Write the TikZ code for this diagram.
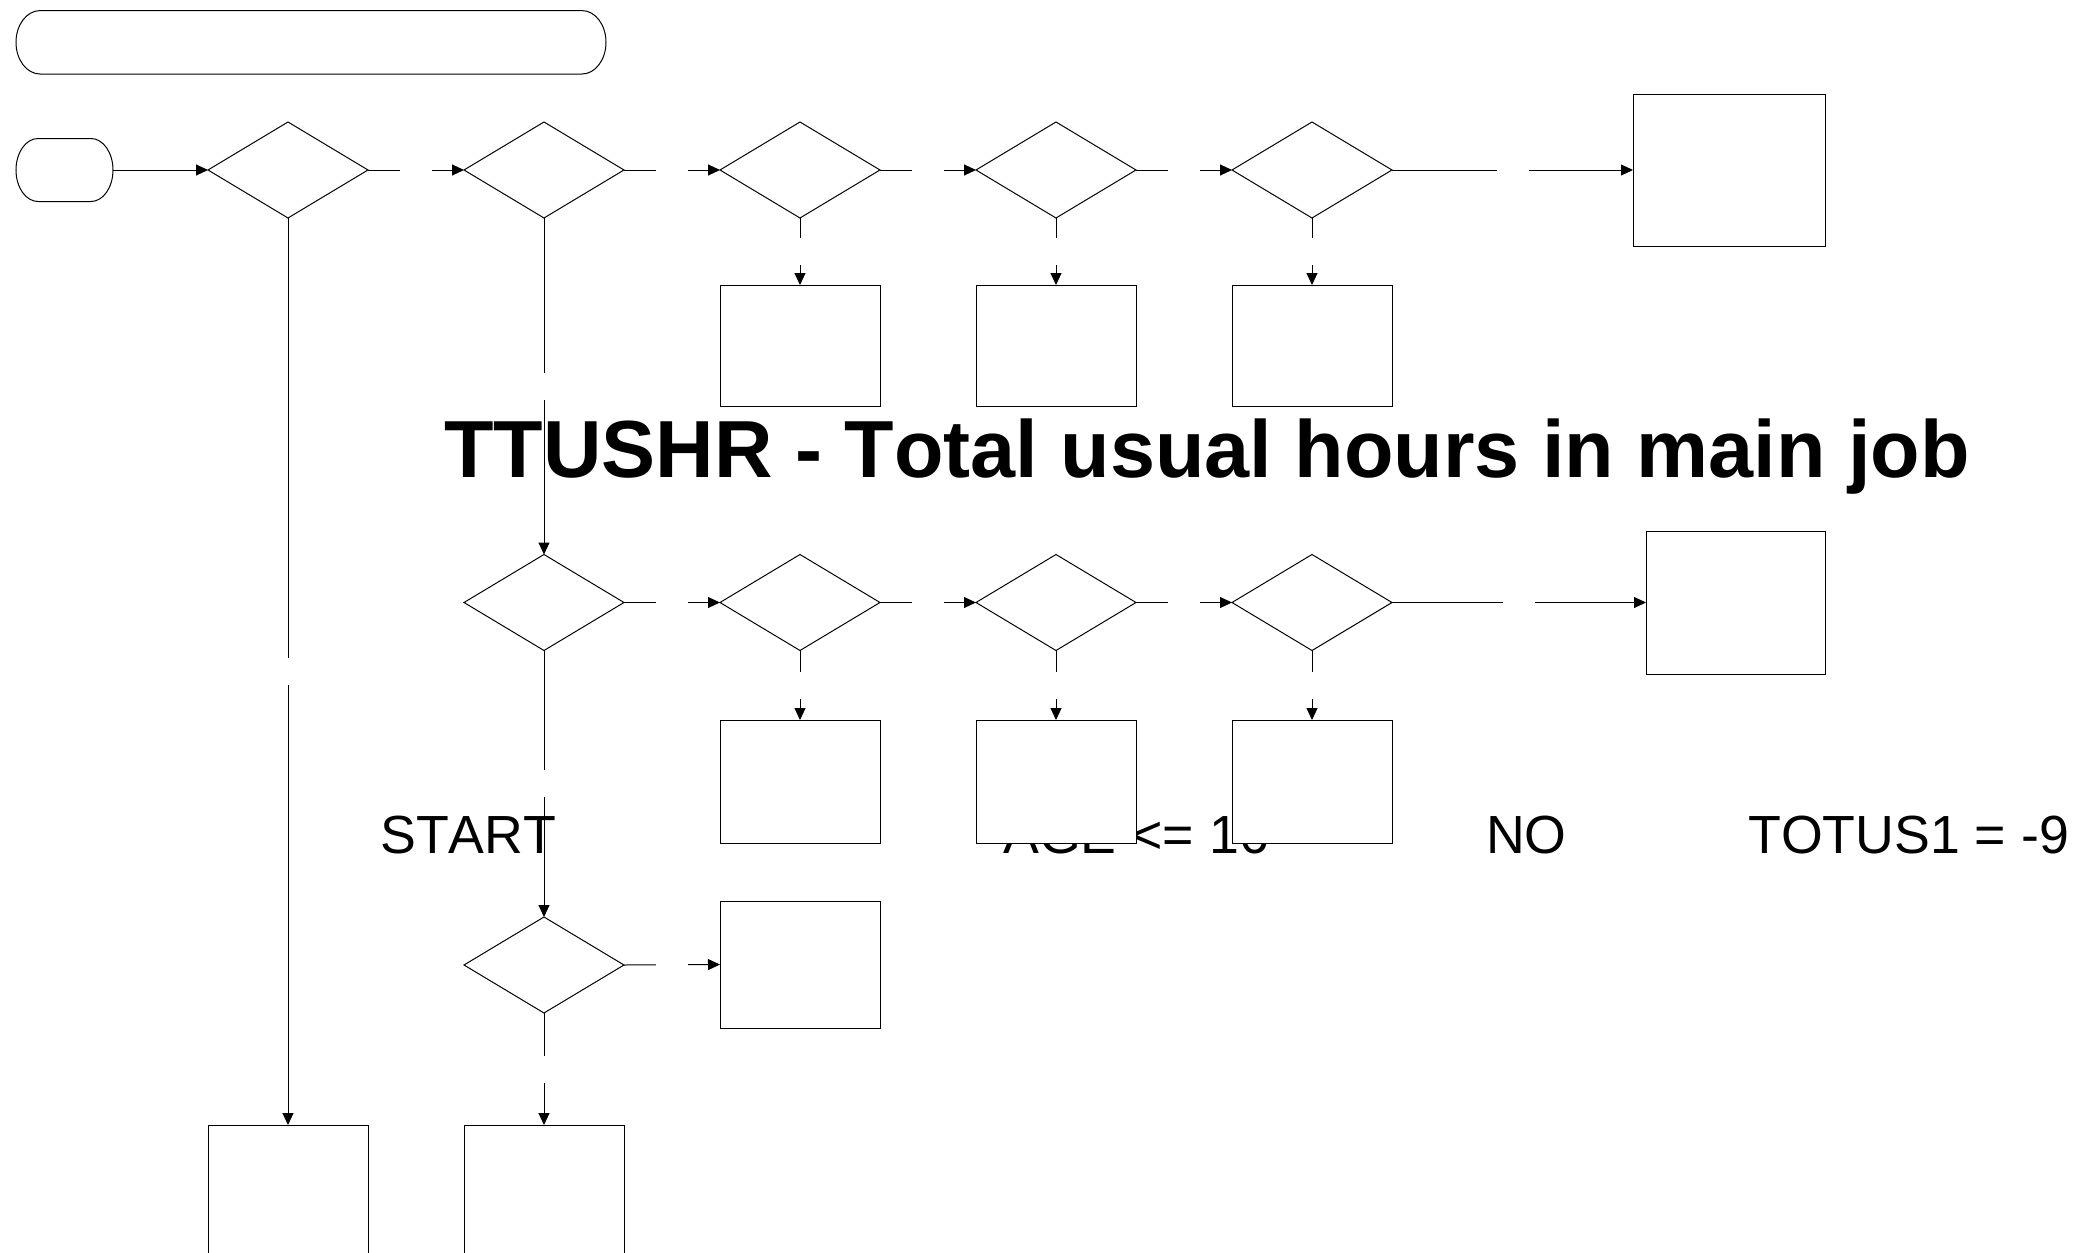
\documentclass[tikz,border=0pt]{standalone}
\usepackage{fontspec}
\setmainfont[Kerning=Off]{Liberation Sans}
\usetikzlibrary{shapes.geometric,arrows.meta,calc}
\newcommand\termoutline[3]{\draw[line width=1pt] ($(#1.north west)+(#2,0)$) -- ($(#1.north east)+(-#2,0)$)
  arc[start angle=90,end angle=-90,x radius=#2pt,y radius=#3pt]
  -- ($(#1.south west)+(#2,0)$)
  arc[start angle=-90,end angle=-270,x radius=#2pt,y radius=#3pt] -- cycle;}
\begin{document}
\begin{tikzpicture}[x=1pt,y=-1pt,
  dia/.style={draw, shape=diamond, minimum width=160pt, minimum height=96pt, inner sep=0pt, outer sep=0pt, fill=white, line width=1pt},
  box/.style={draw, rectangle, inner sep=0pt, outer sep=0pt, fill=white, line width=1pt},
  termnode/.style={rectangle, inner sep=0pt, outer sep=0pt},
  conn/.style={line width=1pt, -{Triangle[length=12pt,width=11pt]}},
  gapnode/.style={fill=white, inner sep=0pt, outer sep=0pt, minimum width=32pt, minimum height=27pt},
  lbl/.style={anchor=base west, inner sep=0pt, font=\fontsize{53.7}{60}\selectfont},
]
\useasboundingbox (0,0) rectangle (2078,1253);
\clip (0,0) rectangle (2078,1253);

% texts
\node[anchor=base west, inner sep=0pt, font=\bfseries\fontsize{81}{90}\selectfont] (title) at (444,477) {TTUSHR - Total usual hours in main job};
\node[lbl] (lstart) at (380,853) {START};
\node[lbl] (lage) at (1003,853) {AGE <= 16};
\node[lbl] (lno) at (1486,853) {NO};
\node[lbl] (ltot) at (1748,853) {TOTUS1 = -9};

% terminals
\node[termnode, minimum width=590pt, minimum height=63.4pt] (top) at (311,42.3) {};
\node[termnode, minimum width=97pt, minimum height=63pt] (start) at (64.5,170) {};
\termoutline{top}{24}{31.7}
\termoutline{start}{22}{31.5}

% row 1
\node[dia] (D1) at (288,170) {};
\node[dia] (D2) at (544,170) {};
\node[dia] (D3) at (800,170) {};
\node[dia] (D4) at (1056,170) {};
\node[dia] (D5) at (1312,170) {};
\node[box, minimum width=192pt, minimum height=152pt] (B1) at (1729,170) {};
\node[box, minimum width=160pt, minimum height=121pt] (C3) at (800,345.5) {};
\node[box, minimum width=160pt, minimum height=121pt] (C4) at (1056,345.5) {};
\node[box, minimum width=160pt, minimum height=121pt] (C5) at (1312,345.5) {};

% row 2
\node[dia] (E2) at (544,602.5) {};
\node[dia] (E3) at (800,602.5) {};
\node[dia] (E4) at (1056,602.5) {};
\node[dia] (E5) at (1312,602.5) {};
\node[box, minimum width=179pt, minimum height=143pt] (B2) at (1735.5,602.5) {};
\node[box, minimum width=160pt, minimum height=123pt] (F3) at (800,781.5) {};
\node[box, minimum width=160pt, minimum height=123pt] (F4) at (1056,781.5) {};
\node[box, minimum width=160pt, minimum height=123pt] (F5) at (1312,781.5) {};

% row 3
\node[dia] (G2) at (544,965) {};
\node[box, minimum width=160pt, minimum height=127pt] (H3) at (800,964.5) {};

% bottom
\node[box, minimum width=160pt, minimum height=160pt] (K1) at (288,1205) {};
\node[box, minimum width=160pt, minimum height=160pt] (K2) at (544,1205) {};

% connectors
\draw[conn] (start.east) -- (D1.west);
\draw[conn] (D1.east) -- node[gapnode] (g12) {} (D2.west);
\draw[conn] (D2.east) -- node[gapnode] (g23) {} (D3.west);
\draw[conn] (D3.east) -- node[gapnode] (g34) {} (D4.west);
\draw[conn] (D4.east) -- node[gapnode] (g45) {} (D5.west);
\draw[conn] (D5.east) -- node[gapnode] (g5b) {} (B1.west);
\draw[conn] (D3.south) -- node[gapnode] (gc3) {} (C3.north);
\draw[conn] (D4.south) -- node[gapnode] (gc4) {} (C4.north);
\draw[conn] (D5.south) -- node[gapnode] (gc5) {} (C5.north);
\draw[conn] (D2.south) -- node[gapnode] (gde) {} (E2.north);
\draw[conn] (E2.east) -- node[gapnode] (h23) {} (E3.west);
\draw[conn] (E3.east) -- node[gapnode] (h34) {} (E4.west);
\draw[conn] (E4.east) -- node[gapnode] (h45) {} (E5.west);
\draw[conn] (E5.east) -- node[gapnode] (h5b) {} (B2.west);
\draw[conn] (E3.south) -- node[gapnode] (gf3) {} (F3.north);
\draw[conn] (E4.south) -- node[gapnode] (gf4) {} (F4.north);
\draw[conn] (E5.south) -- node[gapnode] (gf5) {} (F5.north);
\draw[conn] (E2.south) -- node[gapnode] (geg) {} (G2.north);
\draw[conn] (G2.east) -- node[gapnode] (ggh) {} (H3.west);
\draw[conn] (G2.south) -- node[gapnode] (ggk) {} (K2.north);
\draw[conn] (D1.south) -- node[gapnode] (gdk) {} (K1.north);
\end{tikzpicture}
\end{document}
